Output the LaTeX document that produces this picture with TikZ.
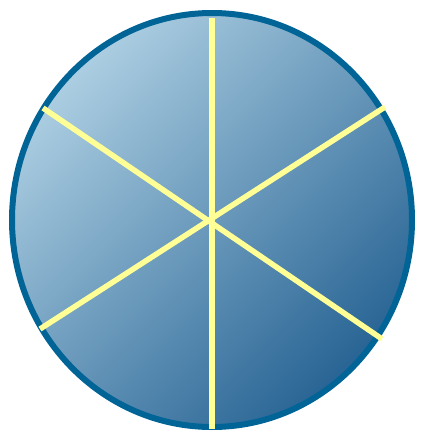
\documentclass[tikz,border=0pt]{standalone}
\definecolor{rim}{RGB}{0,100,150}
\definecolor{lightfill}{RGB}{172,206,226}
\definecolor{darkfill}{RGB}{40,100,148}
\definecolor{spoke}{RGB}{255,255,150}
\tikzset{
  disc/.style={draw=rim, line width=6pt, top color=lightfill, bottom color=darkfill, shading angle=45},
  spokeline/.style={draw=spoke, line width=5.5pt}
}
\begin{document}
\begin{tikzpicture}[x=1pt,y=-1pt]
\useasboundingbox (0,0) rectangle (421,432);
\path[disc] (212,220) ellipse [x radius=200, y radius=207];
\coordinate (c) at (212,220);
\coordinate (t) at (212,18);
\coordinate (b) at (212,429);
\coordinate (ul) at (43,108);
\coordinate (lr) at (382,339);
\coordinate (ll) at (40,329);
\coordinate (ur) at (385,107);
\draw[spokeline] (t) -- (b);
\draw[spokeline] (ul) -- (lr);
\draw[spokeline] (ll) -- (ur);
\end{tikzpicture}
\end{document}
